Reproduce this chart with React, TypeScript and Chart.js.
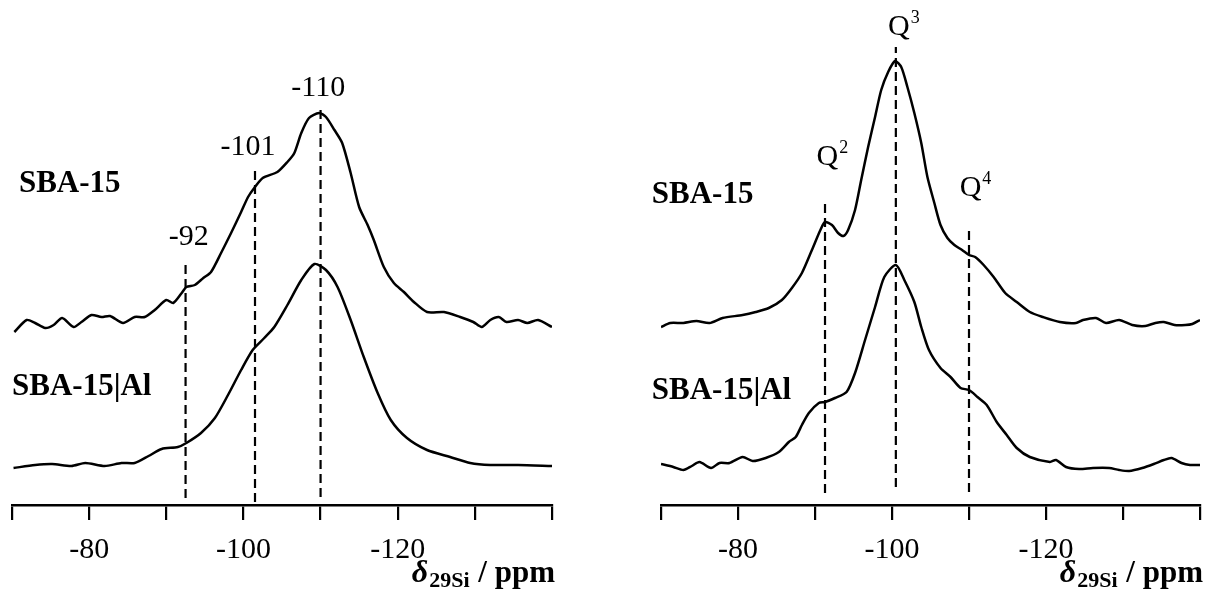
import React, { useEffect, useRef } from "react";
import { Chart, registerables } from "chart.js";

Chart.register(...registerables);

// ---------- axis ----------
const xMin = -140;
const xMax = -70;
const xStep = 10;
const tickLabels = [-80, -100, -120];
const titleSymbol = "δ";
const titleSub = "29Si";
const titleUnit = " / ppm";

// ---------- left panel (peak positions) ----------
const ppmTopL = [-70.3,-71.9,-73.0,-74.3,-75.4,-76.5,-78.0,-79.0,-80.3,-81.6,-82.7,-84.4,-85.9,-87.2,-88.5,-90.0,-90.9,-92.0,-92.6,-93.7,-94.8,-95.8,-97.1,-98.4,-99.7,-100.6,-101.4,-102.5,-104.4,-105.7,-106.6,-107.5,-108.5,-109.8,-110.7,-111.8,-112.8,-113.9,-115.0,-116.1,-116.9,-118.2,-119.5,-120.8,-122.1,-123.8,-126.0,-128.1,-129.8,-130.9,-132.0,-133.1,-134.1,-135.6,-136.8,-138.2,-140.0];
const intTopL = [173,185,182,177,180,187,178,183,190,188,189,182,188,188,195,205,202,212,218,220,227,233,252,272,293,308,317,327,333,343,352,372,387,392,388,375,362,332,298,280,265,238,222,213,203,193,193,188,183,178,185,188,183,185,182,185,178];

const ppmBotL = [-70.2,-73.0,-75.2,-77.7,-79.5,-82.0,-84.2,-85.9,-87.7,-89.4,-91.5,-92.6,-94.5,-96.3,-98.0,-99.7,-101.2,-102.7,-104.0,-105.7,-107.5,-109.2,-110.7,-112.2,-113.9,-115.6,-117.4,-119.1,-121.2,-123.8,-126.8,-129.4,-132.0,-135.6,-140.0];
const intBotL = [37,40,41,39,42,39,42,42,49,56,58,62,72,87,110,135,155,167,178,200,225,241,235,218,185,148,112,85,67,55,48,42,40,40,39];

const markPpmL = [-92.5, -101.5, -110];
const markLowL = [7, 3, 8];
const markHighL = [242, 336, 400];
const markTextL = ["-92", "-101", "-110"];
const markTextPpmL = [-92.9, -100.6, -109.7];
const markTextIntL = [268, 358, 417];

// ---------- right panel (Q species) ----------
const ppmTopR = [-70.0,-71.2,-72.9,-74.6,-76.3,-78.0,-80.6,-82.3,-84.0,-85.7,-87.0,-88.3,-89.6,-90.7,-91.3,-92.2,-93.0,-93.7,-94.3,-95.2,-96.0,-96.9,-97.8,-98.6,-99.5,-100.4,-101.2,-102.0,-102.9,-103.8,-104.6,-105.5,-106.3,-107.2,-108.1,-109.1,-110.0,-110.8,-111.9,-113.2,-114.7,-116.2,-117.9,-119.6,-121.8,-123.9,-124.8,-126.5,-127.8,-129.5,-131.2,-132.9,-134.2,-135.3,-136.7,-138.1,-139.0,-140.0];
const intTopR = [178,182,182,184,182,187,190,193,197,205,217,232,255,275,283,280,272,269,275,295,325,358,388,415,433,444,438,418,392,362,328,302,280,267,260,255,250,248,240,228,212,203,193,188,183,182,185,187,182,185,180,179,182,183,180,180,181,185];

const ppmBotR = [-70.0,-71.6,-72.9,-74.0,-75.0,-76.5,-77.6,-78.9,-80.6,-81.9,-83.6,-85.3,-86.6,-87.5,-88.3,-89.2,-90.5,-91.3,-92.6,-94.1,-95.2,-96.5,-97.8,-99.0,-100.5,-101.6,-102.9,-103.8,-104.8,-106.3,-107.6,-108.9,-110.0,-111.1,-112.3,-113.6,-114.9,-116.2,-117.9,-120.5,-121.3,-122.6,-124.3,-126.1,-128.2,-129.5,-130.8,-132.5,-134.0,-135.3,-136.3,-137.6,-138.7,-140.0];
const intBotR = [41,38,35,39,43,37,42,42,48,44,47,53,63,68,80,92,102,103,107,113,132,165,198,228,240,225,203,178,155,137,128,117,115,108,100,83,70,57,48,43,45,38,36,37,37,35,34,37,41,45,47,42,40,40];

const markPpmR = [-91.3, -100.5, -110.0];
const markLowR = [12, 18, 13];
const markHighR = [302, 458, 274];
const markBaseR = ["Q", "Q", "Q"];
const markSupR = ["2", "3", "4"];
const markTextPpmR = [-91.6, -100.9, -110.2];
const markTextIntR = [348, 478, 317];

// ---------- sample names ----------
const sampleNames = ["SBA-15", "SBA-15|Al"];
const sampleIntL = [313, 110];
const sampleIntR = [302, 106];
const samplePpmL = [-70.9, -70.0];
const samplePpmR = [-68.8, -68.8];

const SERIF = '"Liberation Serif", "Times New Roman", serif';

const zip = (xs: number[], ys: number[]) => xs.map((x, i) => ({ x, y: ys[i] }));

const annotate = {
  id: "annotate",
  afterDraw(chart: any, _args: any, opts: any) {
    const { ctx } = chart;
    const xs = chart.scales.x;
    const ys = chart.scales.y;
    ctx.save();
    ctx.fillStyle = "#000";
    // sample names
    ctx.font = `bold 31px ${SERIF}`;
    ctx.textAlign = "left";
    ctx.textBaseline = "alphabetic";
    opts.samples.forEach((s: any) => {
      ctx.fillText(s.text, xs.getPixelForValue(s.x), ys.getPixelForValue(s.y));
    });
    // peak labels
    opts.marks.forEach((m: any) => {
      const px = xs.getPixelForValue(m.x);
      const py = ys.getPixelForValue(m.y);
      ctx.font = `30px ${SERIF}`;
      ctx.textAlign = "center";
      ctx.textBaseline = "middle";
      ctx.fillText(m.text, px, py);
      if (m.sup) {
        const w = ctx.measureText(m.text).width;
        ctx.font = `18px ${SERIF}`;
        ctx.textAlign = "left";
        ctx.fillText(m.sup, px + w / 2 + 1, py - 9);
      }
    });
    // axis title
    const right = chart.chartArea.right + 3;
    const base = 582;
    const fMain = `bold 31px ${SERIF}`;
    const fItal = `italic bold 32px ${SERIF}`;
    const fSub = `bold 22px ${SERIF}`;
    ctx.textAlign = "left";
    ctx.textBaseline = "alphabetic";
    ctx.font = fMain;
    const wUnit = ctx.measureText(titleUnit).width;
    ctx.font = fSub;
    const wSub = ctx.measureText(titleSub).width;
    ctx.font = fItal;
    const wSym = ctx.measureText(titleSymbol).width;
    let x = right - wUnit - wSub - wSym - 2;
    ctx.fillText(titleSymbol, x, base);
    x += wSym + 1;
    ctx.font = fSub;
    ctx.fillText(titleSub, x, base + 5);
    x += wSub + 1;
    ctx.font = fMain;
    ctx.fillText(titleUnit, x, base);
    ctx.restore();
  },
};

function makeConfig(
  top: { x: number; y: number }[],
  bot: { x: number; y: number }[],
  markPpm: number[],
  markLow: number[],
  markHigh: number[],
  marks: any[],
  samples: any[],
  padLeft: number,
  padRight: number
): any {
  const dashSets = markPpm.map((p, i) => ({
    label: "mark" + i,
    data: [
      { x: p, y: markLow[i] },
      { x: p, y: markHigh[i] },
    ],
    borderColor: "#000",
    borderWidth: 2.2,
    borderDash: [9, 5],
    pointRadius: 0,
    tension: 0,
    fill: false,
  }));
  return {
    type: "line",
    data: {
      datasets: [
        {
          label: sampleNames[0],
          data: top,
          borderColor: "#000",
          borderWidth: 2.5,
          pointRadius: 0,
          tension: 0.25,
          fill: false,
        },
        {
          label: sampleNames[1],
          data: bot,
          borderColor: "#000",
          borderWidth: 2.5,
          pointRadius: 0,
          tension: 0.25,
          fill: false,
        },
        ...dashSets,
      ],
    },
    options: {
      animation: false,
      responsive: false,
      devicePixelRatio: 1,
      layout: { padding: { left: padLeft, right: padRight, top: 5, bottom: 0 } },
      plugins: {
        legend: { display: false },
        tooltip: { enabled: false },
        annotate: { marks, samples },
      },
      scales: {
        x: {
          type: "linear",
          min: xMin,
          max: xMax,
          reverse: true,
          afterFit: (scale: any) => {
            scale.height = 91;
          },
          grid: {
            drawOnChartArea: false,
            drawTicks: true,
            tickLength: 15,
            color: "#000",
            lineWidth: 2.2,
          },
          border: { display: true, color: "#000", width: 2.6 },
          ticks: {
            stepSize: xStep,
            autoSkip: false,
            maxRotation: 0,
            minRotation: 0,
            padding: 12,
            color: "#000",
            font: { family: SERIF, size: 30 },
            callback: (v: any) => (tickLabels.includes(Number(v)) ? String(v) : ""),
          },
        },
        y: { type: "linear", display: false, min: 0, max: 500 },
      },
    },
    plugins: [annotate],
  };
}

export default function App() {
  const leftRef = useRef<HTMLCanvasElement>(null);
  const rightRef = useRef<HTMLCanvasElement>(null);

  useEffect(() => {
    const marksL = markTextL.map((t, i) => ({ text: t, x: markTextPpmL[i], y: markTextIntL[i] }));
    const marksR = markBaseR.map((t, i) => ({ text: t, sup: markSupR[i], x: markTextPpmR[i], y: markTextIntR[i] }));
    const samplesL = sampleNames.map((t, i) => ({ text: t, x: samplePpmL[i], y: sampleIntL[i] }));
    const samplesR = sampleNames.map((t, i) => ({ text: t, x: samplePpmR[i], y: sampleIntR[i] }));
    const a = new Chart(
      leftRef.current!,
      makeConfig(zip(ppmTopL, intTopL), zip(ppmBotL, intBotL), markPpmL, markLowL, markHighL, marksL, samplesL, 10, 54)
    );
    const b = new Chart(
      rightRef.current!,
      makeConfig(zip(ppmTopR, intTopR), zip(ppmBotR, intBotR), markPpmR, markLowR, markHighR, marksR, samplesR, 55, 7)
    );
    return () => {
      a.destroy();
      b.destroy();
    };
  }, []);

  return (
    <div style={{ position: "fixed", left: 0, top: 0, width: 1212, height: 596, background: "#fff" }}>
      <canvas ref={leftRef} width={606} height={596} style={{ position: "absolute", left: 0, top: 0 }} />
      <canvas ref={rightRef} width={606} height={596} style={{ position: "absolute", left: 606, top: 0 }} />
    </div>
  );
}
